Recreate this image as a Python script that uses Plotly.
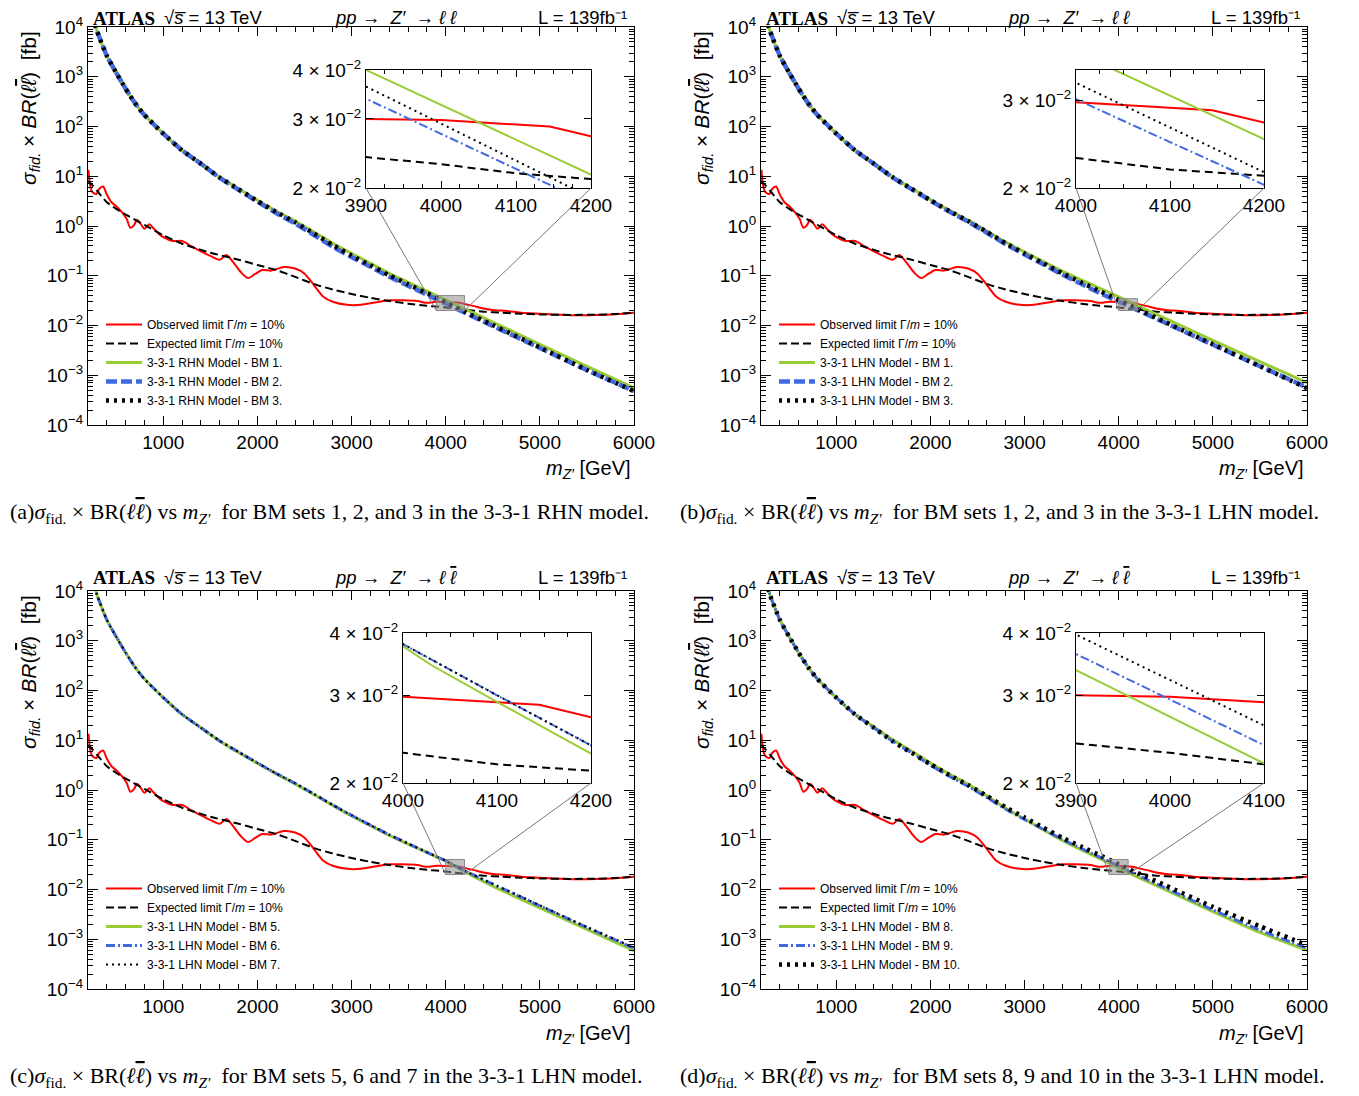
import math
import plotly.graph_objects as go

W, H = 1359, 1096          # reference picture size
OFF = 8                    # page body margin in the browser
FW, FH = W - OFF, H - OFF  # figure size so that the page fits the window

# ---------------- data ----------------
mass_obs = [205, 220, 240, 260, 290, 320, 360, 400, 450, 500, 560, 610, 650, 690, 720, 760,
            800, 850, 900, 950, 1000, 1100, 1200, 1300, 1400, 1500, 1600, 1670, 1750, 1820,
            1900, 1980, 2050, 2150, 2280, 2400, 2500, 2600, 2700, 2800, 2950, 3100, 3250,
            3400, 3550, 3700, 3800, 3900, 4000, 4050, 4145, 4200, 4300, 4400, 4500, 4650,
            4800, 5000, 5200, 5400, 5600, 5800, 6000]
obs_limit = [13.5, 7.0, 5.0, 4.6, 4.4, 5.6, 6.2, 4.3, 3.0, 2.5, 1.9, 1.4, 0.92, 1.05, 1.33, 1.1,
             0.88, 1.08, 0.88, 0.70, 0.60, 0.50, 0.50, 0.39, 0.31, 0.25, 0.21, 0.26, 0.18, 0.12,
             0.09, 0.11, 0.13, 0.127, 0.15, 0.14, 0.11, 0.065, 0.038, 0.030, 0.026, 0.026, 0.029,
             0.032, 0.032, 0.031, 0.0285, 0.0300, 0.0298, 0.0294, 0.0287, 0.0271, 0.0245, 0.0220,
             0.0205, 0.0195, 0.0180, 0.0172, 0.0165, 0.0160, 0.0162, 0.0168, 0.0180]

mass_exp = [200, 250, 300, 400, 500, 600, 800, 1000, 1200, 1500, 1800, 2000, 2200, 2400, 2600,
            2800, 3000, 3200, 3400, 3600, 3800, 3900, 4000, 4100, 4200, 4400, 4600, 4800, 5000,
            5300, 5600, 5800, 6000]
exp_limit = [8.0, 6.5, 5.0, 3.0, 2.2, 1.7, 1.05, 0.65, 0.44, 0.29, 0.21, 0.165, 0.13, 0.095, 0.068,
             0.053, 0.043, 0.036, 0.031, 0.0275, 0.0250, 0.0240, 0.0230, 0.0218, 0.0209, 0.0190,
             0.0180, 0.0172, 0.0167, 0.0163, 0.0165, 0.0170, 0.0180]

mass_bm = [250, 300, 400, 500, 600, 700, 800, 1000, 1200, 1400, 1600, 1800, 2000, 2200, 2400,
           2600, 2800, 3000, 3200, 3400, 3600, 3800, 3900, 4000, 4100, 4200, 4500, 5000, 5500, 6000]
mass_bm_c5 = [250, 300, 400, 500, 600, 700, 800, 1000, 1200, 1400, 1600, 1800, 2000, 2200, 2400,
              2600, 2800, 3000, 3200, 3400, 3600, 3800, 3900, 4000, 4030, 4100, 4200, 4500, 5000,
              5500, 6000]

# panel (a): 3-3-1 RHN, BM 1/2/3
a_bm1 = [15800, 7900, 2630, 1200, 575, 295, 170, 72, 33, 17.8, 9.5, 5.6, 3.3, 2.0, 1.26, 0.76,
         0.45, 0.28, 0.178, 0.112, 0.074, 0.049, 0.040, 0.0326, 0.0265, 0.0216, 0.0117, 0.0042,
         0.00151, 0.00056]
a_bm2 = [15800, 7900, 2630, 1200, 575, 295, 170, 72, 33, 17.8, 9.3, 5.35, 3.08, 1.82, 1.12, 0.66,
         0.383, 0.238, 0.151, 0.095, 0.063, 0.0417, 0.0338, 0.0275, 0.0223, 0.0182, 0.0098,
         0.00353, 0.00127, 0.00048]
a_bm3 = [15800, 7900, 2630, 1200, 575, 295, 170, 72, 33, 17.8, 9.4, 5.48, 3.19, 1.91, 1.19, 0.707,
         0.415, 0.255, 0.162, 0.102, 0.0675, 0.0447, 0.0363, 0.0292, 0.0235, 0.0189, 0.0102,
         0.00362, 0.00128, 0.00048]
# panel (b): 3-3-1 LHN, BM 1/2/3
b_bm1 = [15800, 7900, 2630, 1200, 575, 295, 170, 72, 33, 17.8, 9.6, 5.7, 3.38, 2.06, 1.31, 0.795,
         0.475, 0.30, 0.193, 0.124, 0.083, 0.056, 0.046, 0.0376, 0.0307, 0.0251, 0.0137, 0.0050,
         0.00187, 0.00071]
b_bm2 = [15800, 7900, 2630, 1200, 575, 295, 170, 72, 33, 17.8, 9.4, 5.5, 3.25, 1.95, 1.22, 0.73,
         0.43, 0.268, 0.17, 0.106, 0.069, 0.0448, 0.0368, 0.0302, 0.0248, 0.0203, 0.0112, 0.0041,
         0.00152, 0.00057]
b_bm3 = [15800, 7900, 2630, 1200, 575, 295, 170, 72, 33, 17.8, 9.5, 5.6, 3.3, 2.0, 1.26, 0.76,
         0.45, 0.28, 0.178, 0.112, 0.074, 0.049, 0.0400, 0.0326, 0.0265, 0.0215, 0.01155, 0.0042,
         0.00152, 0.00055]
# panel (c): 3-3-1 LHN, BM 5/6/7
c_bm5 = [15800, 7900, 2630, 1200, 575, 295, 170, 72, 33, 17.8, 9.6, 5.7, 3.45, 2.1, 1.33, 0.81,
         0.49, 0.30, 0.192, 0.123, 0.082, 0.0555, 0.0455, 0.0376, 0.0345, 0.0291, 0.0229, 0.0117,
         0.00427, 0.00158, 0.00059]
c_bm6 = [15800, 7900, 2630, 1200, 575, 295, 170, 72, 33, 17.8, 9.7, 5.8, 3.5, 2.15, 1.36, 0.83,
         0.50, 0.31, 0.197, 0.126, 0.084, 0.056, 0.046, 0.038, 0.030, 0.0238, 0.0129, 0.0047,
         0.00173, 0.00066]
c_bm7 = [15800, 7900, 2630, 1200, 575, 295, 170, 72, 33, 17.8, 9.7, 5.8, 3.5, 2.15, 1.36, 0.83,
         0.50, 0.31, 0.197, 0.126, 0.084, 0.056, 0.046, 0.038, 0.030, 0.0238, 0.0130, 0.0048,
         0.00176, 0.00068]
# panel (d): 3-3-1 LHN, BM 8/9/10
d_bm8 = [15800, 7900, 2630, 1200, 575, 295, 170, 72, 33, 18.5, 10.2, 6.0, 3.5, 2.1, 1.3, 0.76,
         0.43, 0.26, 0.158, 0.097, 0.063, 0.0415, 0.0337, 0.0272, 0.0219, 0.0178, 0.0098, 0.0036,
         0.00137, 0.00060]
d_bm9 = [15800, 7900, 2630, 1200, 575, 295, 170, 72, 33, 17.8, 9.5, 5.6, 3.15, 1.9, 1.18, 0.70,
         0.41, 0.255, 0.162, 0.102, 0.067, 0.0446, 0.0363, 0.0294, 0.0238, 0.0193, 0.0106, 0.0039,
         0.00152, 0.00066]
d_bm10 = [15800, 7900, 2630, 1200, 575, 295, 170, 72, 33, 17.8, 9.5, 5.6, 3.3, 2.0, 1.26, 0.76,
          0.45, 0.28, 0.175, 0.11, 0.073, 0.0485, 0.0397, 0.0322, 0.0261, 0.0215, 0.0120, 0.00447,
          0.00182, 0.00076]

x_ticks_main = [1000, 2000, 3000, 4000, 5000, 6000]
y_ticks_main = [1e-4, 1e-3, 1e-2, 1e-1, 1e0, 1e1, 1e2, 1e3, 1e4]
y_ticktext_main = ["10<sup>\u22124</sup>", "10<sup>\u22123</sup>", "10<sup>\u22122</sup>",
                   "10<sup>\u22121</sup>", "10<sup>0</sup>", "10<sup>1</sup>", "10<sup>2</sup>",
                   "10<sup>3</sup>", "10<sup>4</sup>"]
inset_y_ticks = [0.02, 0.03, 0.04]
inset_y_ticktext = ["2 \u00d7 10<sup>\u22122</sup>", "3 \u00d7 10<sup>\u22122</sup>",
                    "4 \u00d7 10<sup>\u22122</sup>"]

OVL = "<span style='text-decoration:overline'>%s</span>"
LLBAR = "<i>\u2113</i><i>" + (OVL % "\u2113") + "</i>"

panels = [
    dict(key="a", dx=0, dy=0, model="RHN", bms=["1", "2", "3"],
         series=[(mass_bm, a_bm1), (mass_bm, a_bm2), (mass_bm, a_bm3)],
         inset_px=(366, 70, 591, 188), inset_x=(3900, 4200), inset_y=(0.02, 0.04),
         inset_xticks=[3900, 4000, 4100, 4200], sets="1, 2, and 3", cmodel="RHN",
         styles=[("#99cc33", 3, "solid"), ("#4169e1", 4.5, "11px,4px"), ("black", 4.5, "3px,5px")]),
    dict(key="b", dx=673, dy=0, model="LHN", bms=["1", "2", "3"],
         series=[(mass_bm, b_bm1), (mass_bm, b_bm2), (mass_bm, b_bm3)],
         inset_px=(1076, 70, 1264, 188), inset_x=(4000, 4200), inset_y=(0.02, 0.0346),
         inset_xticks=[4000, 4100, 4200], sets="1, 2, and 3", cmodel="LHN",
         styles=[("#99cc33", 3, "solid"), ("#4169e1", 4.5, "11px,4px"), ("black", 4.5, "3px,5px")]),
    dict(key="c", dx=0, dy=564, model="LHN", bms=["5", "6", "7"],
         series=[(mass_bm_c5, c_bm5), (mass_bm, c_bm6), (mass_bm, c_bm7)],
         inset_px=(403, 633, 591, 783), inset_x=(4000, 4200), inset_y=(0.02, 0.04),
         inset_xticks=[4000, 4100, 4200], sets="5, 6 and 7", cmodel="LHN",
         styles=[("#99cc33", 3, "solid"), ("#4169e1", 3, "9px,3px,2px,3px"), ("black", 2.2, "2px,4px")]),
    dict(key="d", dx=673, dy=564, model="LHN", bms=["8", "9", "10"],
         series=[(mass_bm, d_bm8), (mass_bm, d_bm9), (mass_bm, d_bm10)],
         inset_px=(1076, 633, 1264, 783), inset_x=(3900, 4100), inset_y=(0.02, 0.04),
         inset_xticks=[3900, 4000, 4100], sets="8, 9 and 10", cmodel="LHN",
         styles=[("#99cc33", 3, "solid"), ("#4169e1", 3, "9px,3px,2px,3px"), ("black", 4.5, "3px,5px")]),
]
inset_styles = [("#99cc33", 2, "solid"), ("#4169e1", 2, "9px,3px,2px,3px"), ("black", 2, "2px,4px")]

MAIN_XR = (200, 6000)
MAIN_YR = (-4, 4)

SANS = "Liberation Sans"
SERIF = "Liberation Serif"


def pxx(x):
    return (x - OFF) / FW


def pyy(y):
    return 1 - (y - OFF) / FH


fig = go.Figure()
layout = dict(width=FW, height=FH, margin=dict(l=0, r=0, t=0, b=0, pad=0, autoexpand=False),
              paper_bgcolor="white", plot_bgcolor="white", showlegend=True)
annotations = []
shapes = []

minor_x_main = list(range(200, 6001, 200))
minor_y_main = [m * 10 ** k for k in range(-4, 4) for m in range(2, 10)]

for i, p in enumerate(panels):
    n = i + 1
    ni = i + 5
    dx, dy = p["dx"], p["dy"]
    xs = "" if n == 1 else str(n)
    legname = "legend" if n == 1 else "legend%d" % n
    xd = [pxx(88 + dx), pxx(634 + dx)]
    yd = [pyy(425 + dy), pyy(27 + dy)]
    layout["xaxis" + xs] = dict(
        domain=xd, range=list(MAIN_XR), anchor="y" + xs, tickmode="array", tickvals=x_ticks_main,
        ticks="inside", ticklen=9, tickwidth=1, tickcolor="black", mirror="allticks",
        showline=True, linecolor="black", linewidth=1.2, showgrid=False, zeroline=False,
        automargin=False, tickfont=dict(family=SANS, size=19, color="black"),
        minor=dict(tickmode="array", tickvals=minor_x_main, ticks="inside", ticklen=5,
                   tickcolor="black", showgrid=False))
    layout["yaxis" + xs] = dict(
        domain=yd, type="log", range=list(MAIN_YR), anchor="x" + xs, tickmode="array",
        tickvals=y_ticks_main, ticktext=y_ticktext_main, ticks="inside", ticklen=10,
        tickwidth=1, tickcolor="black", mirror="allticks", showline=True, linecolor="black",
        linewidth=1.2, showgrid=False, zeroline=False, automargin=False,
        tickfont=dict(family=SANS, size=19, color="black"),
        minor=dict(tickmode="array", tickvals=minor_y_main, ticks="inside", ticklen=5,
                   tickcolor="black", showgrid=False))
    x0p, y0p, x1p, y1p = p["inset_px"]
    layout["xaxis%d" % ni] = dict(
        domain=[pxx(x0p), pxx(x1p)], range=list(p["inset_x"]), anchor="y%d" % ni,
        tickmode="array", tickvals=p["inset_xticks"], ticks="inside", ticklen=7,
        tickcolor="black", mirror="allticks", showline=True, linecolor="black", linewidth=1.2,
        showgrid=False, zeroline=False, automargin=False,
        tickfont=dict(family=SANS, size=19, color="black"),
        minor=dict(dtick=25, tick0=3900, ticks="inside", ticklen=4, tickcolor="black",
                   showgrid=False))
    yt = [v for v in inset_y_ticks if p["inset_y"][0] - 1e-9 <= v <= p["inset_y"][1] + 1e-9]
    ytt = [inset_y_ticktext[inset_y_ticks.index(v)] for v in yt]
    layout["yaxis%d" % ni] = dict(
        domain=[pyy(y1p), pyy(y0p)], type="log",
        range=[math.log10(p["inset_y"][0]), math.log10(p["inset_y"][1])], anchor="x%d" % ni,
        tickmode="array", tickvals=yt, ticktext=ytt, ticks="inside", ticklen=7,
        tickcolor="black", mirror="allticks", showline=True, linecolor="black", linewidth=1.2,
        showgrid=False, zeroline=False, automargin=False,
        tickfont=dict(family=SANS, size=19, color="black"))

    # ---- main traces ----
    fig.add_trace(go.Scatter(x=mass_obs, y=obs_limit, mode="lines", xaxis="x" + xs, yaxis="y" + xs,
                             line=dict(color="#ff0000", width=2, shape="spline", smoothing=0.8),
                             name="Observed limit \u0393/<i>m</i> = 10%", legend=legname))
    fig.add_trace(go.Scatter(x=mass_exp, y=exp_limit, mode="lines", xaxis="x" + xs, yaxis="y" + xs,
                             line=dict(color="black", width=2, dash="8px,4px", shape="spline",
                                       smoothing=0.5),
                             name="Expected limit \u0393/<i>m</i> = 10%", legend=legname))
    for (mx, vals), bm, (col, w, dsh) in zip(p["series"], p["bms"], p["styles"]):
        fig.add_trace(go.Scatter(x=mx, y=vals, mode="lines", xaxis="x" + xs, yaxis="y" + xs,
                                 line=dict(color=col, width=w, dash=dsh, shape="spline",
                                           smoothing=0.5),
                                 name="3-3-1 %s Model - BM %s." % (p["model"], bm),
                                 legend=legname))
    # ---- inset traces ----
    ix, iy = "x%d" % ni, "y%d" % ni
    fig.add_trace(go.Scatter(x=mass_obs, y=obs_limit, mode="lines", xaxis=ix, yaxis=iy,
                             line=dict(color="#ff0000", width=2), showlegend=False))
    fig.add_trace(go.Scatter(x=mass_exp, y=exp_limit, mode="lines", xaxis=ix, yaxis=iy,
                             line=dict(color="black", width=2, dash="8px,5px"), showlegend=False))
    for (mx, vals), (col, w, dsh) in zip(p["series"], inset_styles):
        fig.add_trace(go.Scatter(x=mx, y=vals, mode="lines", xaxis=ix, yaxis=iy,
                                 line=dict(color=col, width=w, dash=dsh), showlegend=False))

    # ---- legend ----
    layout[legname] = dict(x=pxx(101 + dx), y=pyy(310 + dy), xanchor="left", yanchor="top",
                           bgcolor="rgba(0,0,0,0)", borderwidth=0, itemwidth=36,
                           tracegroupgap=0, font=dict(family=SANS, size=12, color="black"))

    # ---- zoom rectangle & connector lines ----
    rx0, rx1 = p["inset_x"]
    ry0, ry1 = p["inset_y"]

    def to_paper(xv, yv):
        fx = (xv - MAIN_XR[0]) / (MAIN_XR[1] - MAIN_XR[0])
        fy = (math.log10(yv) - MAIN_YR[0]) / (MAIN_YR[1] - MAIN_YR[0])
        return xd[0] + fx * (xd[1] - xd[0]), yd[0] + fy * (yd[1] - yd[0])

    blx, bly = to_paper(rx0, ry0)
    brx, bry = to_paper(rx1, ry0)
    shapes.append(dict(type="line", xref="paper", yref="paper", x0=pxx(x0p), y0=pyy(y1p),
                       x1=blx, y1=bly, line=dict(color="#777777", width=1)))
    shapes.append(dict(type="line", xref="paper", yref="paper", x0=pxx(x1p), y0=pyy(y1p),
                       x1=brx, y1=bry, line=dict(color="#777777", width=1)))
    shapes.append(dict(type="rect", xref="x" + xs, yref="y" + xs, x0=rx0, x1=rx1, y0=ry0, y1=ry1,
                       fillcolor="rgba(140,140,140,0.55)", line=dict(color="#888888", width=1),
                       layer="above"))

    # ---- texts ----
    def ann(text, x, y, xanchor="left", yanchor="middle", size=19, family=SANS, angle=0):
        annotations.append(dict(text=text, x=pxx(x), y=pyy(y), xref="paper", yref="paper",
                                xanchor=xanchor, yanchor=yanchor, showarrow=False,
                                textangle=angle, font=dict(family=family, size=size,
                                                           color="black")))

    ty = max(13 + dy, 17)
    ann("<b>ATLAS</b>", 91 + dx, max(13 + dy, 18.5), size=19, family=SERIF)
    ann("\u221a<i>s\u0305</i> = 13 TeV", 162 + dx, ty, size=18.5)
    ann("<i>pp</i> \u2192  <i>Z\u2032</i>  \u2192 <i>\u2113</i> " + (OVL % "<i>\u2113</i>"),
        333 + dx, ty, size=18.5)
    ann("L = 139fb\u207b\u00b9", 629 + dx, ty, xanchor="right", size=18.5)
    ann("<i>\u03c3</i><sub><i>fid.</i></sub> \u00d7 <i>BR</i>(" + LLBAR + ")  [fb]",
        30 + dx, 108 + dy, xanchor="center", angle=-90, size=21)
    ann("<i>m</i><sub><i>Z\u2032</i></sub> [GeV]", 633 + dx, 470 + dy, xanchor="right", size=20)
    cap = ("(" + p["key"] + ")<i>\u03c3</i><sub>fid.</sub> \u00d7 BR(" + LLBAR + ") vs <i>m</i>"
           "<sub><i>Z\u2032</i></sub>  for BM sets " + p["sets"] + " in the 3-3-1 " + p["cmodel"]
           + " model.")
    ann(cap, max(5 + dx, OFF), 513 + dy, size=22, family=SERIF)

layout["annotations"] = annotations
layout["shapes"] = shapes
fig.update_layout(**layout)
fig.write_html("out.html")
